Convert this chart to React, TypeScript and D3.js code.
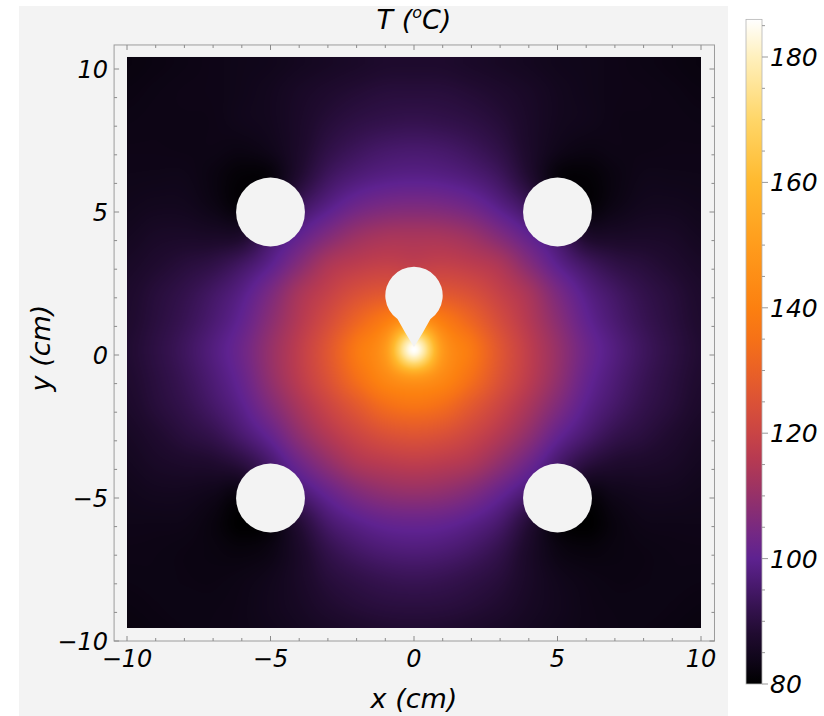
import { useMemo } from "react";
import * as d3 from "d3";

const width = 824, height = 716;

// grid of the temperature field (°C)
const xNodes = [-10, -9, -8, -7, -6, -5, -4, -3, -2, -1, 0, 1, 2, 3, 4, 5, 6, 7, 8, 9, 10];
const yNodes = [10.2, 9.2, 8.2, 7.2, 6.2, 5.2, 4.2, 3.2, 2.2, 1.2, 0.2, -0.8, -1.8, -2.8, -3.8, -4.8, -5.8, -6.8, -7.8, -8.8, -9.8];
const temps = [
  [82.3, 82.7, 83.1, 83.5, 83.9, 84.2, 85.0, 85.8, 86.6, 87.4, 87.5, 87.4, 86.6, 85.8, 85.0, 84.2, 83.9, 83.5, 83.1, 82.7, 82.3],
  [82.7, 83.1, 83.4, 83.5, 84.0, 84.8, 86.2, 87.5, 88.6, 89.4, 89.5, 89.4, 88.6, 87.5, 86.2, 84.8, 84.0, 83.5, 83.4, 83.1, 82.7],
  [83.1, 83.3, 83.3, 83.4, 84.1, 84.8, 86.7, 89.0, 90.6, 91.5, 91.9, 91.5, 90.6, 89.0, 86.7, 84.8, 84.1, 83.4, 83.3, 83.3, 83.1],
  [83.4, 83.4, 83.3, 83.3, 82.9, 84.0, 87.0, 90.9, 93.4, 95.0, 95.5, 95.0, 93.4, 90.9, 87.0, 84.0, 82.9, 83.3, 83.3, 83.4, 83.4],
  [83.7, 83.8, 83.8, 82.6, 80.9, 81.7, 88.2, 93.9, 97.0, 98.6, 99.1, 98.6, 97.0, 93.9, 88.2, 81.7, 80.9, 82.6, 83.8, 83.8, 83.7],
  [84.2, 84.7, 84.6, 83.2, 81.3, 84.1, 93.2, 98.6, 102.8, 104.9, 105.5, 104.9, 102.8, 98.6, 93.2, 84.1, 81.3, 83.2, 84.6, 84.7, 84.2],
  [85.0, 86.2, 86.5, 86.2, 86.9, 94.3, 100.2, 105.9, 110.5, 112.7, 113.0, 112.7, 110.5, 105.9, 100.2, 94.3, 86.9, 86.2, 86.5, 86.2, 85.0],
  [86.2, 87.7, 89.3, 90.9, 94.2, 99.4, 106.7, 113.7, 116.8, 118.3, 117.6, 118.3, 116.8, 113.7, 106.7, 99.4, 94.2, 90.9, 89.3, 87.7, 86.2],
  [87.2, 89.3, 91.5, 94.5, 98.5, 105.0, 113.0, 118.6, 123.7, 126.3, 125.7, 126.3, 123.7, 118.6, 113.0, 105.0, 98.5, 94.5, 91.5, 89.3, 87.2],
  [87.6, 89.9, 92.6, 96.1, 100.7, 107.9, 115.4, 122.8, 131.0, 138.7, 148.2, 138.7, 131.0, 122.8, 115.4, 107.9, 100.7, 96.1, 92.6, 89.9, 87.6],
  [88.1, 90.6, 93.7, 97.7, 102.6, 110.0, 117.5, 126.3, 137.5, 149.0, 186.0, 149.0, 137.5, 126.3, 117.5, 110.0, 102.6, 97.7, 93.7, 90.6, 88.1],
  [87.7, 90.0, 92.9, 96.7, 101.5, 109.3, 116.9, 124.9, 134.5, 143.0, 149.0, 143.0, 134.5, 124.9, 116.9, 109.3, 101.5, 96.7, 92.9, 90.0, 87.7],
  [87.0, 89.3, 91.7, 95.0, 99.3, 106.0, 113.3, 120.2, 127.0, 133.5, 136.0, 133.5, 127.0, 120.2, 113.3, 106.0, 99.3, 95.0, 91.7, 89.3, 87.0],
  [85.9, 87.7, 89.8, 91.9, 95.9, 101.1, 108.7, 115.1, 120.3, 124.2, 125.7, 124.2, 120.3, 115.1, 108.7, 101.1, 95.9, 91.9, 89.8, 87.7, 85.9],
  [85.0, 86.3, 87.1, 87.7, 90.0, 95.5, 102.5, 108.8, 114.0, 116.3, 117.3, 116.3, 114.0, 108.8, 102.5, 95.5, 90.0, 87.7, 87.1, 86.3, 85.0],
  [84.2, 84.8, 84.8, 84.0, 83.0, 92.3, 96.1, 101.4, 106.1, 108.9, 109.8, 108.9, 106.1, 101.4, 96.1, 92.3, 83.0, 84.0, 84.8, 84.8, 84.2],
  [83.7, 83.7, 83.6, 82.3, 80.0, 82.3, 89.0, 95.7, 99.3, 101.4, 102.0, 101.4, 99.3, 95.7, 89.0, 82.3, 80.0, 82.3, 83.6, 83.7, 83.7],
  [83.3, 83.2, 82.9, 82.5, 81.9, 82.9, 86.7, 91.7, 94.8, 96.6, 97.2, 96.6, 94.8, 91.7, 86.7, 82.9, 81.9, 82.5, 82.9, 83.2, 83.3],
  [83.0, 83.1, 82.9, 82.8, 83.2, 84.2, 86.4, 89.4, 91.2, 92.5, 93.0, 92.5, 91.2, 89.4, 86.4, 84.2, 83.2, 82.8, 82.9, 83.1, 83.0],
  [82.6, 82.9, 83.1, 83.1, 83.5, 84.5, 85.8, 87.7, 89.0, 89.8, 90.0, 89.8, 89.0, 87.7, 85.8, 84.5, 83.5, 83.1, 83.1, 82.9, 82.6],
  [82.2, 82.6, 82.9, 83.2, 83.5, 84.0, 84.9, 85.8, 86.8, 87.5, 87.8, 87.5, 86.8, 85.8, 84.9, 84.0, 83.5, 83.2, 82.9, 82.6, 82.2],
];

// round cooling holes (cm)
const holeX = [-5, 5, -5, 5];
const holeY = [5, 5, -5, -5];
const holeR = [1.2, 1.2, 1.2, 1.2];
// bulb-shaped hole above the hot spot
const bulbX = 0, bulbY = 2.08, bulbR = 1.0, bulbTipY = 0.28;

// colour map (SunsetColors-like)
const colorTemps = [80, 84, 88, 92, 96, 100, 104, 108, 112, 116, 120, 125, 130, 135, 140, 150, 160, 170, 180, 186];
const colorHex = ["#000000", "#10061a", "#200b30", "#34124e", "#4a1a70", "#5e2290", "#742884", "#8a2e72",
  "#a13460", "#b73a51", "#c94445", "#db5236", "#ea6126", "#f67117", "#fc8010", "#ff9c1c", "#ffb92e",
  "#ffd668", "#fff0bd", "#ffffff"];

const xTickLabels = [-10, -5, 0, 5, 10];
const yTickLabels = [10, 5, 0, -5, -10];
const barTickLabels = [80, 100, 120, 140, 160, 180];
const tMin = 80, tMax = 186;

const bg = "#f3f3f3";
const font = "'DejaVu Sans', sans-serif";

function catmull(p0: number, p1: number, p2: number, p3: number, t: number) {
  return 0.5 * (2 * p1 + (-p0 + p2) * t + (2 * p0 - 5 * p1 + 4 * p2 - p3) * t * t + (-p0 + 3 * p1 - 3 * p2 + p3) * t * t * t);
}

function sampleField(x: number, y: number) {
  const nx = xNodes.length, ny = yNodes.length;
  const fx = Math.max(0, Math.min(nx - 1, (x - xNodes[0]) / (xNodes[1] - xNodes[0])));
  const fy = Math.max(0, Math.min(ny - 1, (y - yNodes[0]) / (yNodes[1] - yNodes[0])));
  const i = Math.min(nx - 2, Math.floor(fx)), j = Math.min(ny - 2, Math.floor(fy));
  const tx = fx - i, ty = fy - j;
  const ci = (k: number) => Math.max(0, Math.min(nx - 1, k));
  const cj = (k: number) => Math.max(0, Math.min(ny - 1, k));
  const row = (jj: number) => {
    const r = temps[cj(jj)];
    return catmull(r[ci(i - 1)], r[ci(i)], r[ci(i + 1)], r[ci(i + 2)], tx);
  };
  return catmull(row(j - 1), row(j), row(j + 1), row(j + 2), ty);
}

export default function App() {
  const x = d3.scaleLinear().domain([-10, 10]).range([127, 701]);
  const y = d3.scaleLinear().domain([-10, 10]).range([641, 69]);
  const tScale = d3.scaleLinear().domain([80, 180]).range([684, 57]);
  const color = d3.scaleLinear<string>().domain(colorTemps).range(colorHex).interpolate(d3.interpolateRgb).clamp(true);

  // heat-map image area in data units
  const fieldTop = 10.42, fieldBottom = -9.56;
  const fx0 = x(-10), fx1 = x(10), fy0 = y(fieldTop), fy1 = y(fieldBottom);

  const imageUrl = useMemo(() => {
    const w = Math.round(fx1 - fx0), h = Math.round(fy1 - fy0);
    const canvas = document.createElement("canvas");
    canvas.width = w; canvas.height = h;
    const ctx = canvas.getContext("2d");
    if (!ctx) return "";
    // lookup table in 0.1 °C steps
    const lut: number[][] = [];
    for (let k = 0; k <= (tMax - tMin) * 10; k++) {
      const c = d3.rgb(color(tMin + k / 10));
      lut.push([c.r, c.g, c.b]);
    }
    const img = ctx.createImageData(w, h);
    for (let j = 0; j < h; j++) {
      const dy = y.invert(fy0 + j + 0.5);
      for (let i = 0; i < w; i++) {
        const dx = x.invert(fx0 + i + 0.5);
        let t = sampleField(dx, dy);
        t = Math.max(tMin, Math.min(tMax, t));
        const c = lut[Math.round((t - tMin) * 10)];
        const p = (j * w + i) * 4;
        img.data[p] = c[0]; img.data[p + 1] = c[1]; img.data[p + 2] = c[2]; img.data[p + 3] = 255;
      }
    }
    ctx.putImageData(img, 0, 0);
    return canvas.toDataURL();
  }, []);

  const pxPerCm = x(1) - x(0);

  // bulb outline: circle plus a tapering tail down to the tip
  const bulbPath = (() => {
    const p = d3.path();
    const phi = (35 * Math.PI) / 180;
    const jx = bulbR * Math.sin(phi), jy = bulbY - bulbR * Math.cos(phi);
    const a0 = Math.atan2(y(jy) - y(bulbY), x(bulbX + jx) - x(bulbX));
    const a1 = Math.PI - a0;
    p.moveTo(x(bulbX), y(bulbTipY));
    p.quadraticCurveTo(x(bulbX + 0.3), y(0.75), x(bulbX + jx), y(jy));
    p.arc(x(bulbX), y(bulbY), bulbR * pxPerCm, a0, a1, true);
    p.quadraticCurveTo(x(bulbX - 0.3), y(0.75), x(bulbX), y(bulbTipY));
    p.closePath();
    return p.toString();
  })();

  // frame
  const frX0 = x(-10.45), frX1 = x(10.47), frY0 = y(10.84), frY1 = y(-10);
  const minor = d3.range(-10, 11);

  // colour bar
  const barX = 746, barW = 16;
  const barTop = tScale(tMax), barBottom = tScale(tMin);
  const barMinor = d3.range(80, 186, 5);

  const fmt = (v: number) => (v < 0 ? "\u2212" + Math.abs(v) : String(v));

  return (
    <svg width={width} height={height} style={{ position: "absolute", left: 0, top: 0, background: "#ffffff" }}
      fontFamily={font} fontStyle="italic">
      <defs>
        <linearGradient id="tbar" x1="0" y1="1" x2="0" y2="0">
          {colorTemps.map((t, i) => (
            <stop key={i} offset={(t - tMin) / (tMax - tMin)} stopColor={colorHex[i]} />
          ))}
        </linearGradient>
      </defs>

      <rect x={19} y={6} width={709} height={710} fill={bg} />

      {imageUrl && <image href={imageUrl} x={fx0} y={fy0} width={Math.round(fx1 - fx0)} height={Math.round(fy1 - fy0)}
        preserveAspectRatio="none" />}

      {holeX.map((hx, i) => (
        <circle key={i} cx={x(hx)} cy={y(holeY[i])} r={holeR[i] * pxPerCm} fill={bg} />
      ))}
      <path d={bulbPath} fill={bg} />

      <rect x={frX0} y={frY0} width={frX1 - frX0} height={frY1 - frY0} fill="none" stroke="#9c9c9c" strokeWidth={1} />
      <g stroke="#8a8a8a" strokeWidth={1}>
        {minor.map(v => {
          const len = v % 5 === 0 ? 5 : 3;
          return (
            <g key={v}>
              <line x1={x(v)} x2={x(v)} y1={frY1} y2={frY1 - len} />
              <line x1={x(v)} x2={x(v)} y1={frY0} y2={frY0 + len} />
              <line x1={frX0} x2={frX0 + len} y1={y(v)} y2={y(v)} />
              <line x1={frX1} x2={frX1 - len} y1={y(v)} y2={y(v)} />
            </g>
          );
        })}
      </g>

      <g fontSize={24} fill="#000">
        {xTickLabels.map(v => (
          <text key={v} x={x(v)} y={667} textAnchor="middle">{fmt(v)}</text>
        ))}
        {yTickLabels.map(v => (
          <text key={v} x={108} y={y(v)} dy="0.36em" textAnchor="end">{fmt(v)}</text>
        ))}
      </g>

      <text x={414} y={29} fontSize={27} textAnchor="middle" fill="#000">
        T (<tspan fontSize={16} dy={-11}>o</tspan><tspan dy={11}>C)</tspan>
      </text>
      <text x={414} y={708} fontSize={27} textAnchor="middle" fill="#000">x (cm)</text>
      <text transform="translate(50,348) rotate(-90)" fontSize={27} textAnchor="middle" fill="#000">y (cm)</text>

      <rect x={barX} y={barTop} width={barW} height={barBottom - barTop} fill="url(#tbar)" stroke="#b5b5b5" strokeWidth={0.8} />
      <g stroke="#999" strokeWidth={1}>
        {barMinor.map(v => (
          <line key={v} x1={barX + barW} x2={barX + barW + (v % 20 === 0 ? 6 : 3)} y1={tScale(v)} y2={tScale(v)} />
        ))}
      </g>
      <g fontSize={25} fill="#000">
        {barTickLabels.map(v => (
          <text key={v} x={770} y={tScale(v)} dy="0.36em">{v}</text>
        ))}
      </g>
    </svg>
  );
}
